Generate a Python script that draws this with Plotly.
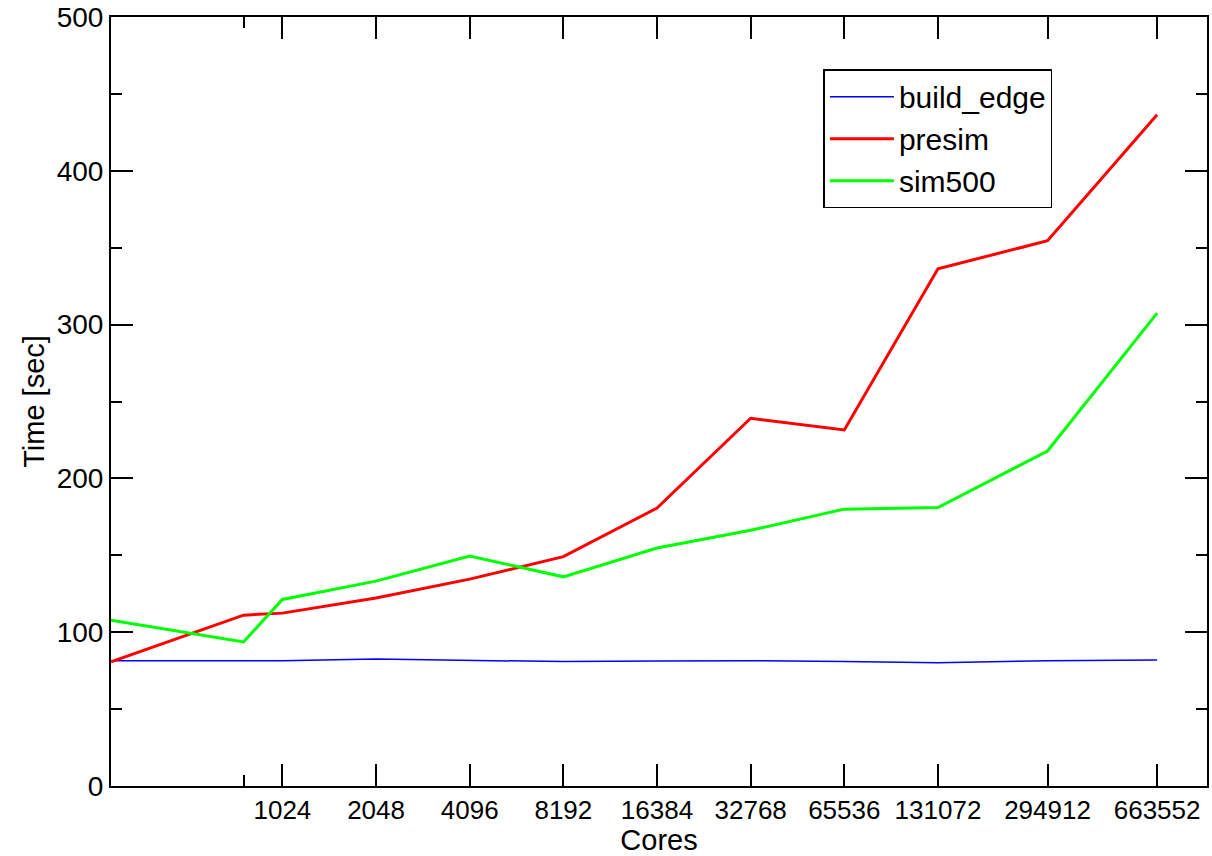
import math
import plotly.graph_objects as go

cores = [288, 768, 1024, 2048, 4096, 8192, 16384, 32768, 65536, 131072, 294912, 663552]
build_edge = [81.4, 81.4, 81.5, 82.5, 81.8, 80.9, 81.3, 81.5, 81.0, 80.2, 81.5, 82.0]
presim = [80.7, 111.1, 112.4, 122.2, 134.5, 149.1, 180.7, 239.1, 231.5, 336.3, 354.5, 436.5]
sim500 = [107.8, 93.7, 121.3, 133.2, 149.5, 136.0, 154.7, 166.3, 180.0, 181.0, 217.8, 307.5]

x_ticks = [1024, 2048, 4096, 8192, 16384, 32768, 65536, 131072, 294912, 663552]
x_minor = [768]
x_range = [288, 960000]

FONT = "Liberation Sans, Arial, Helvetica, sans-serif"

fig = go.Figure()
fig.add_trace(go.Scatter(x=cores, y=build_edge, mode="lines", name="build_edge",
                         line=dict(color="#0000ff", width=1.5)))
fig.add_trace(go.Scatter(x=cores, y=presim, mode="lines", name="presim",
                         line=dict(color="#ff0000", width=3)))
fig.add_trace(go.Scatter(x=cores, y=sim500, mode="lines", name="sim500",
                         line=dict(color="#00ff00", width=3)))

fig.update_layout(
    width=1212, height=856,
    margin=dict(l=111, r=5, t=17, b=70, autoexpand=False),
    paper_bgcolor="white", plot_bgcolor="white",
    font=dict(family=FONT, color="black"),
    showlegend=True,
    legend=dict(x=0.65, y=0.932, xanchor="left", yanchor="top",
                bordercolor="black", borderwidth=1.5, bgcolor="white",
                font=dict(size=30, family=FONT), tracegroupgap=0,
                itemwidth=64),
    xaxis=dict(type="log", range=[math.log10(x_range[0]), math.log10(x_range[1])],
               tickmode="array", tickvals=x_ticks, ticktext=[str(v) for v in x_ticks],
               ticks="inside", ticklen=22, tickwidth=2, tickcolor="black",
               showline=True, linewidth=2, linecolor="black", mirror="ticks",
               showgrid=False, zeroline=False,
               tickfont=dict(size=26, family=FONT),
               minor=dict(tickmode="array", tickvals=x_minor, ticks="inside", ticklen=11,
                          tickwidth=2, tickcolor="black", showgrid=False),
               title=dict(text="Cores", font=dict(size=29, family=FONT), standoff=2)),
    yaxis=dict(range=[0, 500], tickmode="linear", tick0=0, dtick=100,
               ticks="inside", ticklen=22, tickwidth=2, tickcolor="black",
               showline=True, linewidth=2, linecolor="black", mirror="ticks",
               showgrid=False, zeroline=False,
               tickfont=dict(size=28, family=FONT),
               minor=dict(tickmode="linear", tick0=0, dtick=50, ticks="inside", ticklen=11,
                          tickwidth=2, tickcolor="black", showgrid=False),
               title=dict(text="Time [sec]", font=dict(size=29, family=FONT), standoff=4)),
)

fig.write_html("out.html", config={"displayModeBar": False},
               post_script="document.body.style.margin='0';")
